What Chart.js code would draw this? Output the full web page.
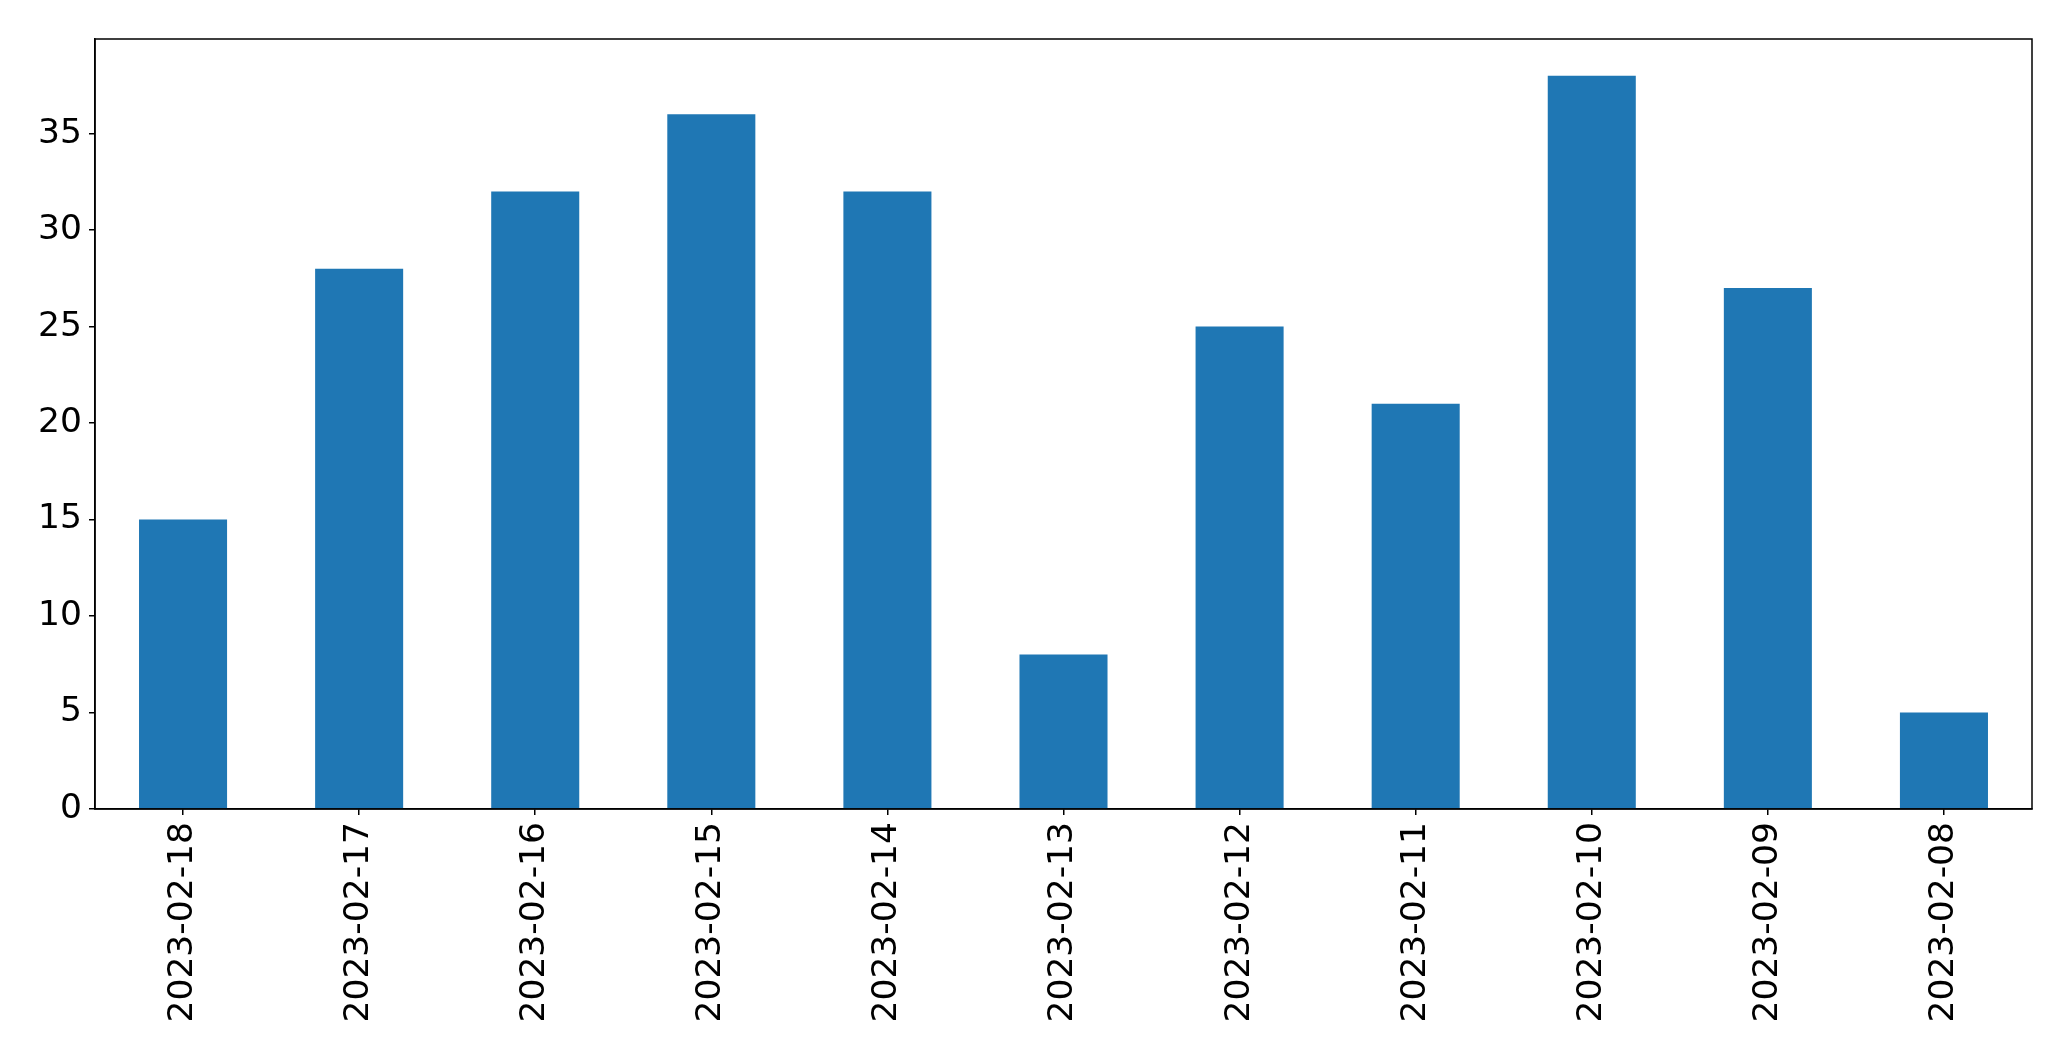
<!DOCTYPE html>
<html>
<head>
<meta charset="utf-8">
<script src="https://cdn.jsdelivr.net/npm/chart.js@4"></script>
<style>
  body { margin: 0; background: #fff; }
  #wrap { width: 2071px; height: 1061px; position: relative; }
</style>
</head>
<body>
<div id="wrap"><canvas id="myChart"></canvas></div>
<script>
// dates as they appear on the x axis, newest first
const days = ["2023-02-18", "2023-02-17", "2023-02-16", "2023-02-15", "2023-02-14",
  "2023-02-13", "2023-02-12", "2023-02-11", "2023-02-10", "2023-02-09", "2023-02-08"];
const counts = [15, 28, 32, 36, 32, 8, 25, 21, 38, 27, 5];
const yTicks = [0, 5, 10, 15, 20, 25, 30, 35];

// box around the plot area like matplotlib's spines
const frame = {
  id: "frame",
  afterDatasetsDraw(chart) {
    const a = chart.chartArea;
    const c = chart.ctx;
    c.save();
    c.strokeStyle = "#000";
    c.lineWidth = 1.5;
    c.strokeRect(a.left, a.top, a.right - a.left, a.bottom - a.top);
    c.restore();
  }
};

Chart.defaults.font.family = "DejaVu Sans";
Chart.defaults.font.size = 34.5;
Chart.defaults.color = "#000";

new Chart(document.getElementById("myChart"), {
  type: "bar",
  data: {
    labels: days,
    datasets: [{
      data: counts,
      backgroundColor: "#1f77b4",
      borderWidth: 0,
      categoryPercentage: 1,
      barPercentage: 0.5
    }]
  },
  options: {
    responsive: true,
    maintainAspectRatio: false,
    animation: false,
    layout: { padding: { left: 0, top: 39, right: 39, bottom: 0 } },
    plugins: {
      legend: { display: false },
      tooltip: { enabled: false }
    },
    scales: {
      x: {
        offset: true,
        grid: { offset: false, drawOnChartArea: false, drawTicks: true, tickLength: 6, color: "#000", lineWidth: 1.5 },
        border: { display: true, color: "#000", width: 1.5 },
        ticks: { minRotation: 90, maxRotation: 90, autoSkip: false, padding: 7 },
        afterFit: (s) => { s.height = 252; }
      },
      y: {
        min: 0,
        max: Math.max(...counts) * 1.05,
        grid: { drawOnChartArea: false, drawTicks: true, tickLength: 6, color: "#000", lineWidth: 1.5 },
        border: { display: true, color: "#000", width: 1.5 },
        ticks: { stepSize: 5, includeBounds: false, padding: 7 },
        afterBuildTicks: (s) => { s.ticks = yTicks.map(v => ({ value: v })); },
        afterFit: (s) => { s.width = 95; }
      }
    }
  },
  plugins: [frame]
});
</script>
</body>
</html>
